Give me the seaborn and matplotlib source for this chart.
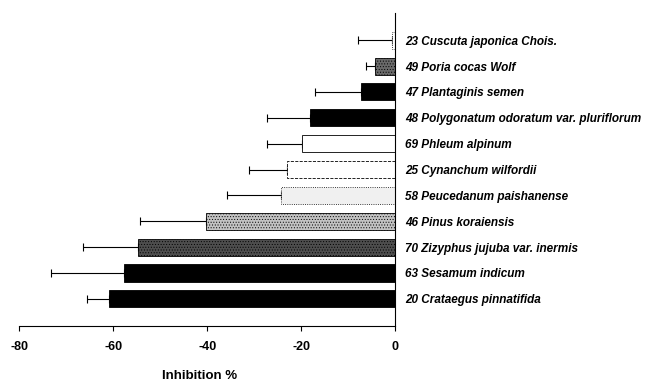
import matplotlib
matplotlib.use("Agg")
import matplotlib.pyplot as plt
import seaborn as sns
import pandas as pd
import numpy as np

# Extracts, top to bottom
labels = [
    "23 Cuscuta japonica Chois.",
    "49 Poria cocas Wolf",
    "47 Plantaginis semen",
    "48 Polygonatum odoratum var. pluriflorum",
    "69 Phleum alpinum",
    "25 Cynanchum wilfordii",
    "58 Peucedanum paishanense",
    "46 Pinus koraiensis",
    "70 Zizyphus jujuba var. inermis",
    "63 Sesamum indicum",
    "20 Crataegus pinnatifida",
]
inhibition = [-0.7, -4.4, -7.4, -18.1, -19.8, -23.0, -24.2, -40.3, -54.7, -57.7, -60.9]
error = [7.3, 1.8, 9.7, 9.2, 7.4, 8.2, 11.5, 14.0, 11.7, 15.6, 4.7]
xticks = [-80, -60, -40, -20, 0]

fills = ["#ffffff", "#6a6a6a", "#000000", "#000000", "#ffffff", "#ffffff",
         "#f0f0f0", "#c2c2c2", "#4e4e4e", "#000000", "#000000"]
hatches = ["", "......", "", "", "", "", "", "......", "......", "", ""]
edge_styles = [":", "-", "-", "-", "-", "--", ":", "-", "-", "-", "-"]

sns.set_theme(style="white")
plt.rcParams["font.family"] = ["Liberation Sans", "DejaVu Sans"]
plt.rcParams["text.color"] = "black"
plt.rcParams["axes.labelcolor"] = "black"
plt.rcParams["xtick.color"] = "black"
plt.rcParams["ytick.color"] = "black"
plt.rcParams["hatch.linewidth"] = 0.4
plt.rcParams["hatch.color"] = "#8a8a8a"

df = pd.DataFrame({"label": labels, "value": inhibition})

fig = plt.figure(figsize=(6.45, 3.83), dpi=100)
ax = fig.add_axes([0.0295, 0.1488, 0.5834, 0.8172])

sns.barplot(data=df, x="value", y="label", orient="h", hue="label",
            palette=fills, legend=False, width=0.66, edgecolor="black",
            linewidth=0.6, ax=ax, zorder=2)

for patch, h, ls in zip(ax.patches, hatches, edge_styles):
    if h:
        patch.set_hatch(h)
    patch.set_linestyle(ls)

# One-sided error bars extending outward from each bar
ypos = np.arange(len(labels))
ax.errorbar(inhibition, ypos, xerr=[error, np.zeros(len(error))], fmt="none",
            ecolor="black", elinewidth=0.8, capsize=3, capthick=0.8, zorder=1)

ax.set_xlim(-80, 0)
ax.set_ylim(len(labels) - 1 + 1.05, -1.05)
ax.set_xticks(xticks)
ax.set_xticklabels([str(t) for t in xticks], fontsize=9, fontweight="bold",
                   color="black")

ax.yaxis.tick_right()
ax.tick_params(axis="y", length=0, pad=7)
for t in ax.get_yticklabels():
    t.set_fontsize(8.5)
    t.set_fontweight("bold")
    t.set_fontstyle("italic")
    t.set_color("black")
ax.set_ylabel("")

ax.tick_params(axis="x", direction="out", length=3.5, width=0.8, pad=7,
               bottom=True, color="black")
for side in ["top", "left"]:
    ax.spines[side].set_visible(False)
for side in ["bottom", "right"]:
    ax.spines[side].set_color("black")
    ax.spines[side].set_linewidth(0.8)

ax.set_xlabel("Inhibition %", fontsize=9.5, fontweight="bold", color="black")
ax.xaxis.set_label_coords(0.48, -0.14)
ax.xaxis.label.set_va("top")

fig.savefig("out.png", dpi=100)
